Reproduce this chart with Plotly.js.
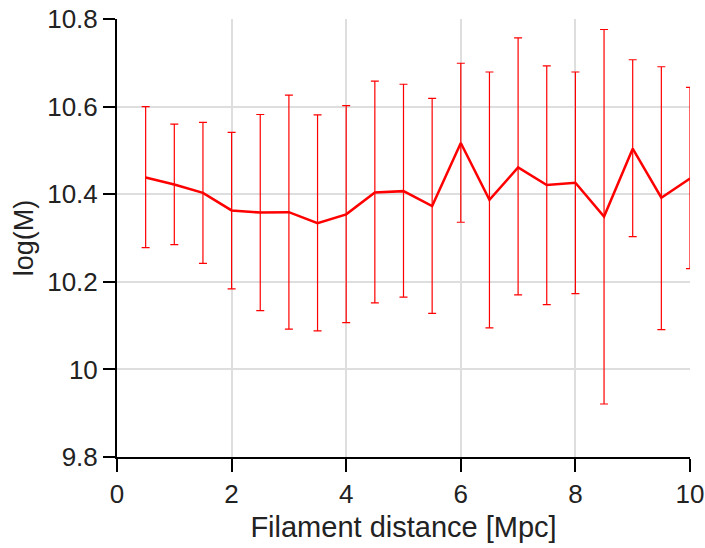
<!DOCTYPE html>
<html>
<head>
<meta charset="utf-8">
<script src="https://cdn.plot.ly/plotly-3.0.1.min.js"></script>
<style>html,body{margin:0;padding:0;background:#fff}#chart{width:705px;height:548px}</style>
</head>
<body>
<div id="chart"></div>
<script>
const distance = [0.5,1,1.5,2,2.5,3,3.5,4,4.5,5,5.5,6,6.5,7,7.5,8,8.5,9,9.5,10];
const logM = [10.438,10.422,10.403,10.363,10.358,10.359,10.334,10.354,10.404,10.407,10.373,10.517,10.387,10.461,10.421,10.426,10.349,10.504,10.392,10.436];
const upper = [10.600,10.560,10.564,10.541,10.582,10.626,10.581,10.602,10.658,10.651,10.619,10.699,10.679,10.757,10.693,10.679,10.776,10.707,10.691,10.644];
const lower = [10.278,10.285,10.242,10.184,10.134,10.092,10.088,10.107,10.152,10.165,10.128,10.336,10.095,10.170,10.148,10.173,9.921,10.303,10.091,10.230];
const yTicks = [9.8,10,10.2,10.4,10.6,10.8];
const xTicks = [0,2,4,6,8,10];

const plus = upper.map((u,i)=>u-logM[i]);
const minus = lower.map((l,i)=>logM[i]-l);

const font = "Liberation Sans, Arial, sans-serif";
const txt = '#222';
const trace = {
  x: distance, y: logM, type: 'scatter', mode: 'lines',
  line: {color: '#ff0000', width: 2.5},
  error_y: {type: 'data', symmetric: false, array: plus, arrayminus: minus,
            color: '#ff0000', thickness: 1.2, width: 4},
  showlegend: false
};
const layout = {
  width: 705, height: 548,
  margin: {l: 117, r: 15, t: 19, b: 91},
  paper_bgcolor: '#fff', plot_bgcolor: '#fff',
  font: {family: font, color: txt},
  xaxis: {
    range: [0,10], tickvals: xTicks, ticktext: xTicks.map(String),
    ticks: 'outside', ticklen: 13, tickwidth: 2, tickcolor: '#000',
    showline: true, linecolor: '#000', linewidth: 2,
    showgrid: true, gridcolor: '#dedede', gridwidth: 2, zeroline: false,
    tickfont: {size: 26, family: font, color: txt},
    title: {text: 'Filament distance [Mpc]', font: {size: 29, family: font, color: txt}, standoff: 8}
  },
  yaxis: {
    range: [9.8,10.8], tickvals: yTicks, ticktext: yTicks.map(v=>String(v)),
    ticks: 'outside', ticklen: 12, tickwidth: 2, tickcolor: '#000',
    showline: true, linecolor: '#000', linewidth: 2,
    showgrid: true, gridcolor: '#dedede', gridwidth: 2, zeroline: false,
    tickfont: {size: 26, family: font, color: txt},
    title: {text: 'log(M)', font: {size: 27, family: font, color: txt}, standoff: 6}
  }
};
Plotly.newPlot('chart', [trace], layout, {staticPlot: true, displayModeBar: false});
</script>
</body>
</html>
